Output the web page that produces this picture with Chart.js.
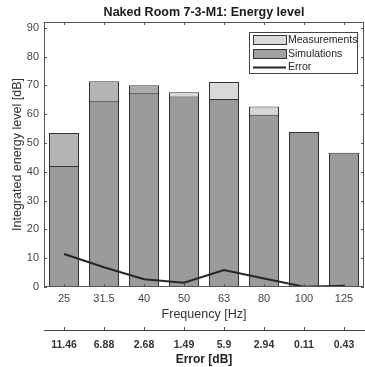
<!DOCTYPE html>
<html>
<head>
<meta charset="utf-8">
<script src="https://cdn.jsdelivr.net/npm/chart.js@4.4.1/dist/chart.umd.min.js"></script>
<style>
  html, body { margin: 0; padding: 0; background: #fff; }
</style>
</head>
<body>
<canvas id="energyChart" width="365" height="367"></canvas>
<script>
// chart data
const frequencies = ['25', '31.5', '40', '50', '63', '80', '100', '125'];
const measurements = [53.5, 71.4, 70.0, 67.6, 71.2, 62.7, 53.7, 46.2];
const simulations = [42.0, 64.5, 67.3, 66.1, 65.3, 59.8, 53.8, 46.6];
const errors = [11.46, 6.88, 2.68, 1.49, 5.9, 2.94, 0.11, 0.43];
const errorLabels = ['11.46', '6.88', '2.68', '1.49', '5.9', '2.94', '0.11', '0.43'];
const yTickValues = [0, 10, 20, 30, 40, 50, 60, 70, 80, 90];

const fontFamily = "'Liberation Sans', Arial, sans-serif";
const measColors = ['#b4b4b4', '#b4b4b4', '#ababab', '#d9d9d9', '#d9d9d9', '#d6d6d6', '#d0d0d0', '#d0d0d0'];

// draws the title, box frame, inner ticks and legend like the MATLAB figure
const framePlugin = {
    id: 'frame',
    afterDraw(chart) {
        const { ctx, chartArea: a, scales } = chart;
        ctx.save();

        // title
        ctx.fillStyle = '#1a1a1a';
        ctx.font = 'bold 12.5px ' + fontFamily;
        ctx.textAlign = 'center';
        ctx.textBaseline = 'middle';
        ctx.fillText('Naked Room 7-3-M1: Energy level', (a.left + a.right) / 2, 13);

        // box
        ctx.strokeStyle = '#555';
        ctx.lineWidth = 1;
        ctx.strokeRect(a.left + 0.5, a.top + 0.5, a.right - a.left - 1, a.bottom - a.top - 1);

        ctx.beginPath();
        scales.x.ticks.forEach((t, i) => {
            const px = Math.round(scales.x.getPixelForTick(i)) + 0.5;
            ctx.moveTo(px, a.bottom); ctx.lineTo(px, a.bottom - 3);
            ctx.moveTo(px, a.top); ctx.lineTo(px, a.top + 3);
        });
        scales.y.ticks.forEach(t => {
            const py = Math.round(scales.y.getPixelForValue(t.value)) + 0.5;
            ctx.moveTo(a.left, py); ctx.lineTo(a.left + 3, py);
            ctx.moveTo(a.right, py); ctx.lineTo(a.right - 3, py);
        });
        const x2 = scales.x2;
        x2.ticks.forEach((t, i) => {
            const px = Math.round(x2.getPixelForTick(i)) + 0.5;
            ctx.moveTo(px, x2.top); ctx.lineTo(px, x2.top - 3);
        });
        ctx.stroke();

        // legend box
        const lx = a.right - 115, ly = a.top + 10, lw = 108, lh = 41;
        ctx.fillStyle = '#fff';
        ctx.fillRect(lx, ly, lw, lh);
        ctx.strokeStyle = '#444';
        ctx.strokeRect(lx + 0.5, ly + 0.5, lw, lh);

        const rows = [ly + 8, ly + 22, ly + 35.5];
        const ds = chart.data.datasets;
        ctx.font = '10.5px ' + fontFamily;
        ctx.textAlign = 'left';
        ds.forEach((d, i) => {
            const cy = rows[i];
            if (d.type === 'line') {
                ctx.strokeStyle = d.borderColor;
                ctx.lineWidth = 2;
                ctx.beginPath();
                ctx.moveTo(lx + 4, cy); ctx.lineTo(lx + 37, cy);
                ctx.stroke();
            } else {
                ctx.fillStyle = d.legendColor;
                ctx.fillRect(lx + 4, cy - 4.5, 33, 9);
                ctx.strokeStyle = '#333';
                ctx.lineWidth = 1;
                ctx.strokeRect(lx + 4.5, cy - 4.5, 33, 9);
            }
            ctx.fillStyle = '#222';
            ctx.fillText(d.label, lx + 39, cy);
        });
        ctx.restore();
    }
};

new Chart(document.getElementById('energyChart'), {
    type: 'bar',
    data: {
        labels: frequencies,
        datasets: [
            {
                label: 'Measurements',
                data: measurements,
                backgroundColor: measColors,
                legendColor: '#d9d9d9',
                borderColor: '#333',
                borderWidth: 1,
                barPercentage: 0.75,
                categoryPercentage: 1,
                order: 3
            },
            {
                label: 'Simulations',
                data: simulations,
                backgroundColor: '#9b9b9b',
                legendColor: '#a0a0a0',
                borderColor: '#333',
                borderWidth: 1,
                barPercentage: 0.75,
                categoryPercentage: 1,
                order: 2
            },
            {
                type: 'line',
                label: 'Error',
                data: errors,
                borderColor: '#262626',
                borderWidth: 2,
                pointRadius: 0,
                tension: 0,
                order: 1
            }
        ]
    },
    options: {
        responsive: false,
        animation: false,
        layout: { padding: { top: 22, right: 1, left: 0, bottom: 0 } },
        plugins: {
            legend: { display: false },
            title: { display: false },
            tooltip: { enabled: false }
        },
        scales: {
            x: {
                stacked: true,
                offset: true,
                grid: { display: false, drawTicks: false },
                border: { display: false },
                ticks: { color: '#444', font: { family: fontFamily, size: 11 }, padding: 5, maxRotation: 0 },
                title: {
                    display: true,
                    text: 'Frequency [Hz]',
                    color: '#333',
                    font: { family: fontFamily, size: 12.5 },
                    padding: { top: 0, bottom: 8 }
                },
                afterFit(scale) { scale.height = 43; }
            },
            x2: {
                type: 'category',
                position: 'bottom',
                labels: errorLabels,
                offset: true,
                grid: { drawOnChartArea: false, drawTicks: false },
                border: { display: true, color: '#444', width: 1 },
                ticks: { color: '#333', font: { family: fontFamily, size: 10.5, weight: 'bold' }, padding: 9, maxRotation: 0 },
                title: {
                    display: true,
                    text: 'Error [dB]',
                    color: '#222',
                    font: { family: fontFamily, size: 12, weight: 'bold' },
                    padding: { top: 0, bottom: 0 }
                },
                afterFit(scale) { scale.height = 37; }
            },
            y: {
                stacked: false,
                min: 0,
                max: 92,
                grid: { display: false, drawTicks: false },
                border: { display: false },
                ticks: { stepSize: 10, color: '#444', font: { family: fontFamily, size: 11 }, padding: 5 },
                afterBuildTicks(scale) {
                    scale.ticks = yTickValues.map(v => ({ value: v }));
                },
                title: {
                    display: true,
                    text: 'Integrated energy level [dB]',
                    color: '#333',
                    font: { family: fontFamily, size: 12.5 },
                    padding: { top: 10, bottom: 0 }
                },
                afterFit(scale) { scale.width = 44; }
            }
        }
    },
    plugins: [framePlugin]
});
</script>
</body>
</html>
